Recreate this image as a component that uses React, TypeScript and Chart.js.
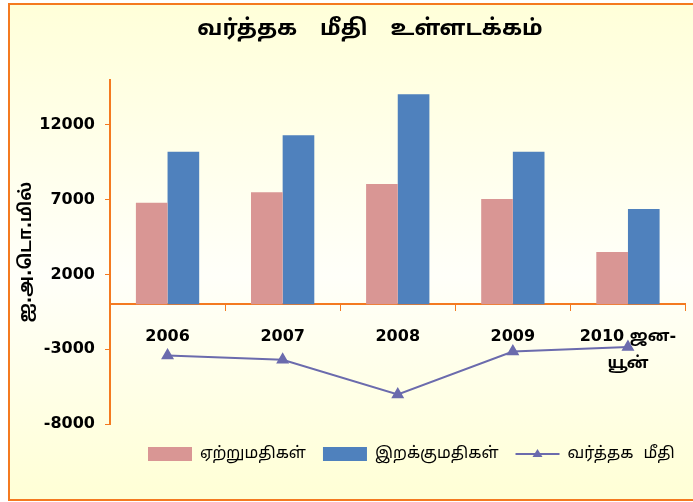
import React, { useEffect, useRef } from 'react';
import { Chart, registerables } from 'chart.js';

Chart.register(...registerables);

// ---------- data ----------
const categories: (string | string[])[] = ['2006', '2007', '2008', '2009', ['2010 ஜன-', 'யூன்']];
const exportValues = [6800, 7500, 8050, 7050, 3500];
const importValues = [10200, 11300, 14050, 10200, 6380];
const balanceValues = [-3420, -3700, -6030, -3160, -2850];
const yTickValues = [-8000, -3000, 2000, 7000, 12000];
const seriesNames = ['ஏற்றுமதிகள்', 'இறக்குமதிகள்', 'வர்த்தக  மீதி'];
const chartTitle = 'வர்த்தக   மீதி   உள்ளடக்கம்';
const yAxisTitle = 'ஐ.அ.டொ.மில்';

// ---------- styles ----------
const ORANGE = '#F47A20';
const PINK = '#D99694';
const BLUE = '#4F81BD';
const LINE = '#6B6BAD';
const FONT = "'DejaVu Sans', 'Noto Sans Tamil', 'Noto Sans Tamil UI', 'Lohit Tamil', 'Noto Sans', sans-serif";

const decorPlugin = {
  id: 'decor',
  afterLayout(chart: any) {
    const lg = chart.legend;
    if (lg) {
      const h = lg.bottom - lg.top;
      lg.left = 131;
      lg.right = chart.width;
      lg.top = 429;
      lg.bottom = 429 + h;
    }
  },
  beforeDraw(chart: any) {
    const { ctx, width, height } = chart;
    ctx.save();
    ctx.fillStyle = '#FFFFFF';
    ctx.fillRect(0, 0, width, height);
    const g = ctx.createLinearGradient(0, 4, 0, 500);
    g.addColorStop(0, '#FFFFD9');
    g.addColorStop(0.55, '#FFFFF9');
    g.addColorStop(1, '#FFFFD5');
    ctx.fillStyle = g;
    ctx.fillRect(9, 4, width, 496);
    ctx.strokeStyle = ORANGE;
    ctx.lineWidth = 2;
    ctx.strokeRect(9, 4, width + 20, 496);
    ctx.fillStyle = '#000';
    ctx.font = `bold 22px ${FONT}`;
    ctx.textAlign = 'center';
    ctx.textBaseline = 'middle';
    ctx.fillText(chartTitle, 370, 29);
    ctx.restore();
  },
  afterDraw(chart: any) {
    const lg = chart.legend;
    if (!lg || !lg.legendHitBoxes || !lg.legendHitBoxes[2]) return;
    const hb = lg.legendHitBoxes[2];
    const { ctx } = chart;
    const cy = hb.top + hb.height / 2;
    const x0 = hb.left;
    const x1 = hb.left + 44;
    ctx.save();
    ctx.strokeStyle = LINE;
    ctx.lineWidth = 2;
    ctx.beginPath();
    ctx.moveTo(x0, cy);
    ctx.lineTo(x1, cy);
    ctx.stroke();
    const cx = (x0 + x1) / 2;
    ctx.fillStyle = LINE;
    ctx.beginPath();
    ctx.moveTo(cx, cy - 5);
    ctx.lineTo(cx + 5, cy + 3);
    ctx.lineTo(cx - 5, cy + 3);
    ctx.closePath();
    ctx.fill();
    ctx.restore();
  },
};

export default function App() {
  const canvasRef = useRef<HTMLCanvasElement | null>(null);

  useEffect(() => {
    document.body.style.margin = '0';
    const canvas = canvasRef.current;
    if (!canvas) return;
    const chart = new Chart(canvas, {
      type: 'bar',
      data: {
        labels: categories as any,
        datasets: [
          {
            type: 'bar',
            label: seriesNames[0],
            data: exportValues,
            backgroundColor: PINK,
            borderWidth: 0,
            categoryPercentage: 0.55,
            barPercentage: 1.0,
          },
          {
            type: 'bar',
            label: seriesNames[1],
            data: importValues,
            backgroundColor: BLUE,
            borderWidth: 0,
            categoryPercentage: 0.55,
            barPercentage: 1.0,
          },
          {
            type: 'line',
            label: seriesNames[2],
            data: balanceValues,
            borderColor: LINE,
            backgroundColor: LINE,
            borderWidth: 2,
            pointStyle: 'triangle',
            pointRadius: 5.5,
            pointBackgroundColor: LINE,
            pointBorderColor: LINE,
            tension: 0,
          } as any,
        ],
      },
      options: {
        responsive: false,
        animation: false,
        devicePixelRatio: 1,
        layout: { padding: { left: 10, right: 0, top: 80, bottom: 35 } },
        scales: {
          x: {
            position: { y: 0 } as any,
            grid: {
              display: true,
              drawOnChartArea: false,
              drawTicks: true,
              tickLength: 6,
              color: ORANGE,
              lineWidth: 1,
              offset: true,
            },
            border: { display: true, color: ORANGE, width: 2 },
            ticks: {
              color: '#000',
              font: { family: FONT, size: 16, weight: 'bold', lineHeight: 1.7 },
              padding: 13,
              maxRotation: 0,
              autoSkip: false,
            },
          },
          y: {
            min: -8000,
            max: 15000,
            afterBuildTicks: (scale: any) => {
              scale.ticks = yTickValues.map((v) => ({ value: v }));
            },
            afterFit: (scale: any) => {
              scale.width = 100;
            },
            grid: {
              display: true,
              drawOnChartArea: false,
              drawTicks: true,
              tickLength: 5,
              color: ORANGE,
            },
            border: { display: true, color: ORANGE, width: 2 },
            ticks: {
              color: '#000',
              font: { family: FONT, size: 16, weight: 'bold' },
              padding: 10,
              callback: (v: any) => String(v),
            },
            title: {
              display: true,
              text: yAxisTitle,
              color: '#000',
              font: { family: FONT, size: 17, weight: 'bold' },
              padding: { top: 6, bottom: 0 },
            },
          },
        },
        plugins: {
          title: { display: false },
          tooltip: { enabled: false },
          legend: {
            display: true,
            position: 'bottom',
            align: 'start',
            labels: {
              boxWidth: 44,
              boxHeight: 14,
              padding: 17,
              color: '#000',
              font: { family: FONT, size: 16 },
              generateLabels: (ch: any) => {
                const items = (Chart.defaults.plugins.legend.labels as any).generateLabels(ch);
                items.forEach((it: any) => {
                  if (it.datasetIndex === 2) {
                    it.fillStyle = 'rgba(0,0,0,0)';
                    it.strokeStyle = 'rgba(0,0,0,0)';
                  }
                  it.lineWidth = 0;
                });
                return items;
              },
            },
          },
        },
      },
      plugins: [decorPlugin as any],
    });
    return () => chart.destroy();
  }, []);

  return (
    <div style={{ position: 'absolute', left: 0, top: 0, width: 693, height: 502 }}>
      <canvas ref={canvasRef} width={693} height={502} style={{ display: 'block' }} />
    </div>
  );
}
